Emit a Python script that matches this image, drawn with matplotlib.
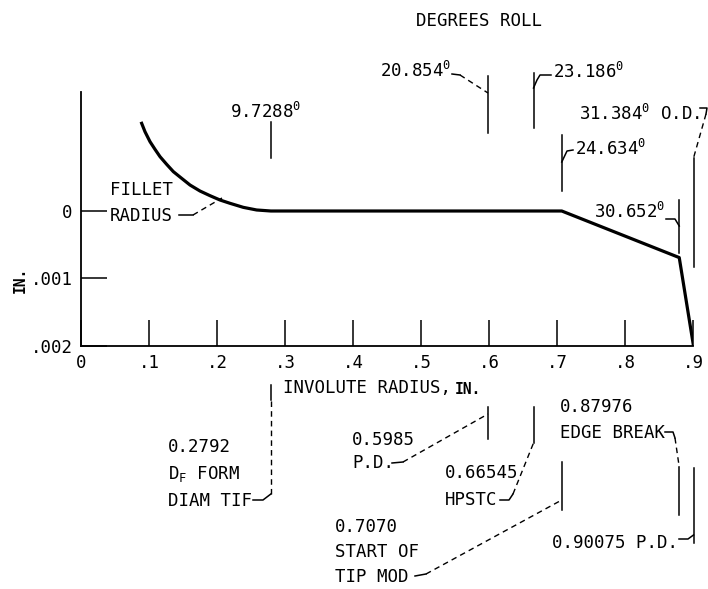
import matplotlib.pyplot as plt

plt.rcParams['font.family'] = 'DejaVu Sans Mono'
plt.rcParams['mathtext.fontset'] = 'dejavusans'

# profile deviation (in.) along the involute radius (in.)
radius = [0.0892, 0.0941, 0.1015, 0.1088, 0.1162, 0.1260, 0.1358, 0.1480,
          0.1603, 0.1750, 0.1897, 0.2044, 0.2191, 0.2387, 0.2583, 0.2792,
          0.7070, 0.87976, 0.90075]
deviation = [-0.001299, -0.001175, -0.001027, -0.000914, -0.000805, -0.000691,
             -0.000583, -0.000484, -0.000385, -0.000296, -0.000227, -0.000163,
             -0.000114, -0.000054, -0.000015, 0.0,
             0.0, 0.00069, 0.002]

x_ticks = [0, .1, .2, .3, .4, .5, .6, .7, .8, .9]
x_tick_labels = ['0', '.1', '.2', '.3', '.4', '.5', '.6', '.7', '.8', '.9']
y_ticks = [0, 0.001, 0.002]
y_tick_labels = ['0', '.001', '.002']

# key radii and the roll angle at each
key_radius = [0.2792, 0.5985, 0.66545, 0.7070, 0.87976, 0.90075]
roll_deg = ['9.7288', '20.854', '23.186', '24.634', '30.652', '31.384']
roll_suffix = ['', '', '', '', '', ' O.D.']
key_names = [['0.2792', r'D$_\mathtt{F}$ FORM', 'DIAM TIF'],
             ['0.5985', 'P.D.'],
             ['0.66545', 'HPSTC'],
             ['0.7070', 'START OF', 'TIP MOD'],
             ['0.87976', 'EDGE BREAK'],
             ['0.90075 P.D.']]

W, H = 708, 589
FS = 12.5


# layout helpers: picture pixels -> data units
def xd(px):
    return (px - 81) / 680


def yd(py):
    return (py - 211) / 67500


fig = plt.figure(figsize=(W / 100, H / 100), dpi=100)
ax = fig.add_axes([81 / W, (H - 346) / H, 612 / W, 254 / H])
ax.set_xlim(0, 0.9)
ax.set_ylim(yd(346), yd(92))
for s in ['top', 'right']:
    ax.spines[s].set_visible(False)
for s in ['left', 'bottom']:
    ax.spines[s].set_linewidth(1.3)

ax.set_xticks(x_ticks, x_tick_labels, fontsize=FS)
ax.set_yticks(y_ticks, y_tick_labels, fontsize=FS)
ax.tick_params(direction='in', length=19, width=1.1, color='black')
ax.tick_params(axis='x', pad=6)
ax.tick_params(axis='y', pad=6)

ax.plot(radius, deviation, color='black', lw=2.3, solid_joinstyle='round')

line_kw = dict(color='black', lw=1.1, clip_on=False)
dash_kw = dict(color='black', lw=1.0, clip_on=False, dashes=(4, 3))


def leader(pts, dashed=False, xm=None):
    xs = [xm if p[0] is None else xd(p[0]) for p in pts]
    ys = [yd(p[1]) for p in pts]
    ax.plot(xs, ys, **(dash_kw if dashed else line_kw))


def sup(i):
    return roll_deg[i] + r'$^{\mathtt{0}}$' + roll_suffix[i]


# roll angle markers above the curve: (line top, line bottom, text x, text y, ha)
top_layout = [(122, 158, 266, 112, 'center'),
              (76, 133, 451, 71, 'right'),
              (73, 128, 553, 72, 'left'),
              (135, 191, 575, 149, 'left'),
              (200, 253, 665, 212, 'right'),
              (158, 267, 700, 114, 'right')]
top_solid = [None,
             [(452, 74), (460, 75)],
             [(551, 75), (540, 75), (537, 80), (None, 88)],
             [(573, 150), (567, 151), (None, 162)],
             [(666, 219), (675, 219), (None, 226)],
             [(700, 108), (707, 108), (706, 114)]]
top_dash = [None,
            [(460, 75), (None, 93)],
            None,
            None,
            None,
            [(706, 114), (None, 158)]]

for i, xm in enumerate(key_radius):
    t, b, tx, ty, ha = top_layout[i]
    ax.plot([xm, xm], [yd(t), yd(b)], **line_kw)
    ax.text(xd(tx), yd(ty), sup(i), ha=ha, va='center', fontsize=FS)
    if top_solid[i]:
        leader(top_solid[i], xm=xm)
    if top_dash[i]:
        leader(top_dash[i], dashed=True, xm=xm)

# key radius markers below the axis: (line top, line bottom, text x, first row y)
bot_layout = [(385, 400, 168, 447),
              (407, 439, 352, 440),
              (407, 443, 445, 473),
              (462, 510, 335, 527),
              (467, 515, 560, 407),
              (468, 543, 552, 543)]
row_gap = [27, 23, 27, 25, 26, 0]
bot_solid = [[(253, 500), (263, 500), (None, 494)],
             [(392, 463), (403, 462)],
             [(500, 500), (509, 500), (513, 494)],
             [(415, 576), (426, 574)],
             [(665, 432), (673, 432), (675, 438)],
             [(679, 539), (688, 539), (None, 535)]]
bot_dash = [[(None, 494), (None, 400)],
            [(403, 462), (None, 414)],
            [(513, 494), (None, 443)],
            [(426, 574), (None, 500)],
            [(675, 438), (None, 467)],
            None]

for i, xm in enumerate(key_radius):
    t, b, tx, ty = bot_layout[i]
    ax.plot([xm, xm], [yd(t), yd(b)], **line_kw)
    for k, row in enumerate(key_names[i]):
        ax.text(xd(tx), yd(ty + k * row_gap[i]), row, ha='left', va='center',
                fontsize=FS)
    leader(bot_solid[i], xm=xm)
    if bot_dash[i]:
        leader(bot_dash[i], dashed=True, xm=xm)

# fillet radius callout
ax.text(xd(110), yd(190), 'FILLET', ha='left', va='center', fontsize=FS)
ax.text(xd(110), yd(216), 'RADIUS', ha='left', va='center', fontsize=FS)
leader([(179, 215), (193, 215)])
leader([(193, 215), (222, 198)], dashed=True)

# axis titles
ax.text(xd(479), yd(21), 'DEGREES ROLL', ha='center', va='center', fontsize=FS)
ax.text(xd(283), yd(388), 'INVOLUTE RADIUS,', ha='left', va='center', fontsize=FS)
ax.text(xd(455), yd(389), 'IN.', ha='left', va='center', fontsize=10.5,
        fontweight='bold')
ax.text(xd(20), yd(280), 'IN.', ha='center', va='center', fontsize=10.5,
        fontweight='bold', rotation=90)

fig.savefig('out.png', dpi=100)
